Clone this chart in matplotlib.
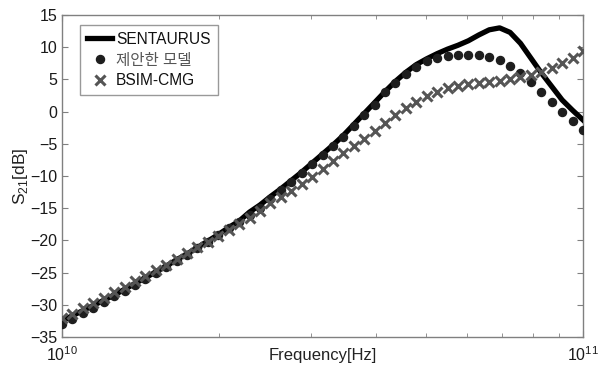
import numpy as np
import matplotlib
matplotlib.use('Agg')
import matplotlib.pyplot as plt
from matplotlib.ticker import LogLocator, NullFormatter

plt.rcParams['font.family'] = ['Liberation Sans', 'Noto Sans CJK KR', 'DejaVu Sans']
plt.rcParams['mathtext.fontset'] = 'custom'
plt.rcParams['mathtext.rm'] = 'Liberation Sans'

# 51 log-spaced frequency points, 10 GHz .. 100 GHz
freq = np.logspace(10, 11, 51)

sentaurus = [-32.5, -31.7, -30.9, -30.1, -29.3, -28.5, -27.6, -26.7, -25.8, -24.9,
             -24.0, -23.0, -22.1, -21.1, -20.1, -19.1, -18.0, -17.0, -15.6, -14.5,
             -13.2, -12.0, -10.7, -9.4, -8.0, -6.6, -5.2, -3.7, -2.0, -0.3,
             1.4, 3.1, 4.7, 6.1, 7.3, 8.2, 9.0, 9.7, 10.3, 11.0,
             11.9, 12.7, 13.0, 12.3, 10.6, 8.3, 6.0, 3.9, 1.8, 0.2, -1.3]

model = [-33.0, -32.2, -31.3, -30.5, -29.6, -28.7, -27.9, -26.9, -26.0, -25.1,
         -24.1, -23.2, -22.3, -21.2, -20.2, -19.2, -18.1, -17.1, -16.1, -15.0,
         -13.5, -12.2, -10.9, -9.6, -8.2, -6.8, -5.4, -3.9, -2.3, -0.6,
         1.1, 3.0, 4.5, 5.8, 6.9, 7.9, 8.4, 8.7, 8.8, 8.8,
         8.8, 8.5, 8.0, 7.1, 6.0, 4.6, 3.0, 1.5, -0.1, -1.5, -2.9]

bsim = [-32.1, -31.4, -30.5, -29.7, -28.9, -28.0, -27.2, -26.3, -25.5, -24.6,
        -23.8, -22.9, -22.0, -21.0, -20.2, -19.3, -18.4, -17.4, -16.5, -15.4,
        -14.2, -13.3, -12.3, -11.2, -10.1, -8.9, -7.7, -6.5, -5.3, -4.2,
        -3.0, -1.7, -0.6, 0.5, 1.5, 2.4, 3.1, 3.7, 4.0, 4.3,
        4.5, 4.6, 4.8, 5.0, 5.3, 5.7, 6.2, 6.8, 7.5, 8.3, 9.4]

fig = plt.figure(figsize=(6.05, 3.67), dpi=100)
ax = fig.add_axes([62/605, 1-337/367, 521/605, 322/367])

ax.semilogx(freq, sentaurus, color='black', lw=3.8, label='SENTAURUS', zorder=3)
ax.semilogx(freq, model, 'o', color='#1e1e1e', ms=5.8, mec='#1e1e1e',
            label='제안한 모델', zorder=4)
ax.semilogx(freq, bsim, 'x', color='#555555', ms=7, mew=2.2,
            label='BSIM-CMG', zorder=5)

ax.set_xlim(1e10, 1e11)
ax.set_ylim(-35, 15)
ax.set_yticks(np.arange(-35, 16, 5))
ax.xaxis.set_major_locator(LogLocator(base=10, numticks=5))
ax.xaxis.set_minor_locator(LogLocator(base=10, subs=np.arange(2, 10), numticks=5))
ax.xaxis.set_minor_formatter(NullFormatter())

for sp in ax.spines.values():
    sp.set_color('#808080')
    sp.set_linewidth(1.0)
ax.tick_params(which='both', direction='in', top=True, right=True,
               color='#808080', labelsize=11.5, labelcolor='#1a1a1a')
ax.tick_params(which='major', length=4)
ax.tick_params(which='minor', length=3)
ax.tick_params(axis='x', pad=6)

ax.set_xlabel('Frequency[Hz]', fontsize=12, color='#222222')
ax.xaxis.set_label_coords(0.5, -0.058)
ax.xaxis.label.set_va('center')
ax.set_ylabel('S$_{21}$[dB]', fontsize=12.5, color='#222222', labelpad=0)

leg = ax.legend(loc='upper left', bbox_to_anchor=(0.035, 0.97), fontsize=11.2,
                frameon=True, fancybox=False, handlelength=1.6,
                handletextpad=0.25, borderpad=0.45, labelspacing=0.38,
                borderaxespad=0)
leg.get_frame().set_edgecolor('#808080')
leg.get_frame().set_linewidth(1.0)
for t in leg.get_texts():
    t.set_color('#111111')
leg.get_texts()[1].set_color('#555555')

fig.savefig('out.png', dpi=100)
